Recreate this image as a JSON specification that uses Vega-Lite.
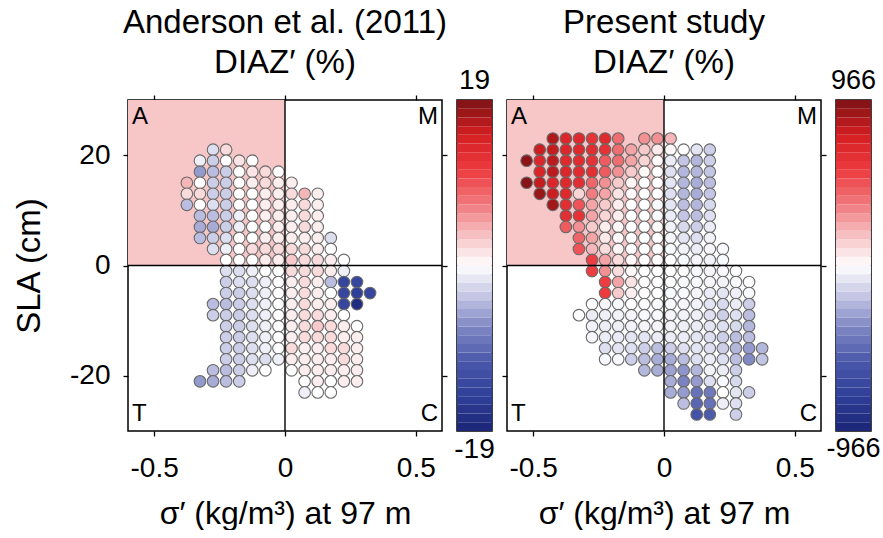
{
  "$schema": "https://vega.github.io/schema/vega-lite/v6.json",
  "background": "white",
  "padding": {"left": 12, "top": 6, "right": 0, "bottom": 0},
  "config": {
    "font": "Liberation Sans",
    "view": {"stroke": "black", "strokeWidth": 1.5},
    "concat": {"spacing": 15},
    "axis": {"domain": false, "grid": false, "ticks": true, "tickColor": "black", "tickSize": 5, "tickWidth": 1.3, "labelFont": "Liberation Sans", "labelFontSize": 28, "labelColor": "black", "titleFont": "Liberation Sans", "titleFontSize": 32, "titleFontWeight": "normal", "titleColor": "black"},
    "title": {"font": "Liberation Sans", "fontSize": 33, "fontWeight": "normal", "color": "black"}
  },
  "bounds": "flush",
  "resolve": {"scale": {"color": "independent", "x": "independent", "y": "independent"}},
  "datasets": {
    "left": [
      {"x":-0.275,"y":21,"v":-2},{"x":-0.225,"y":21,"v":2},
      {"x":-0.325,"y":19,"v":-1},{"x":-0.275,"y":19,"v":-3},{"x":-0.225,"y":19,"v":0},{"x":-0.175,"y":19,"v":1.5},{"x":-0.125,"y":19,"v":0},
      {"x":-0.325,"y":17,"v":-6},{"x":-0.275,"y":17,"v":-4},{"x":-0.225,"y":17,"v":-3},{"x":-0.175,"y":17,"v":0},{"x":-0.125,"y":17,"v":1.5},{"x":-0.075,"y":17,"v":2},{"x":-0.025,"y":17,"v":0},
      {"x":-0.375,"y":15,"v":4},{"x":-0.325,"y":15,"v":0},{"x":-0.275,"y":15,"v":-3},{"x":-0.225,"y":15,"v":-3},{"x":-0.175,"y":15,"v":0},{"x":-0.125,"y":15,"v":1},{"x":-0.075,"y":15,"v":2},{"x":-0.025,"y":15,"v":1},{"x":0.025,"y":15,"v":1},
      {"x":-0.375,"y":13,"v":2},{"x":-0.325,"y":13,"v":2},{"x":-0.275,"y":13,"v":-3},{"x":-0.225,"y":13,"v":-3},{"x":-0.175,"y":13,"v":0},{"x":-0.125,"y":13,"v":0},{"x":-0.075,"y":13,"v":1},{"x":-0.025,"y":13,"v":1},{"x":0.025,"y":13,"v":2},{"x":0.075,"y":13,"v":4},{"x":0.125,"y":13,"v":1},
      {"x":-0.375,"y":11,"v":-4},{"x":-0.325,"y":11,"v":0},{"x":-0.275,"y":11,"v":-2},{"x":-0.225,"y":11,"v":-3},{"x":-0.175,"y":11,"v":0},{"x":-0.125,"y":11,"v":0},{"x":-0.075,"y":11,"v":1},{"x":-0.025,"y":11,"v":1},{"x":0.025,"y":11,"v":1},{"x":0.075,"y":11,"v":2},{"x":0.125,"y":11,"v":1},
      {"x":-0.325,"y":9,"v":-4},{"x":-0.275,"y":9,"v":-4},{"x":-0.225,"y":9,"v":-3},{"x":-0.175,"y":9,"v":-1},{"x":-0.125,"y":9,"v":0},{"x":-0.075,"y":9,"v":1},{"x":-0.025,"y":9,"v":1},{"x":0.025,"y":9,"v":1},{"x":0.075,"y":9,"v":2},{"x":0.125,"y":9,"v":1},
      {"x":-0.325,"y":7,"v":-5},{"x":-0.275,"y":7,"v":-5},{"x":-0.225,"y":7,"v":-3},{"x":-0.175,"y":7,"v":-1},{"x":-0.125,"y":7,"v":0},{"x":-0.075,"y":7,"v":0},{"x":-0.025,"y":7,"v":1},{"x":0.025,"y":7,"v":1},{"x":0.075,"y":7,"v":2},{"x":0.125,"y":7,"v":1},
      {"x":-0.325,"y":5,"v":-4},{"x":-0.275,"y":5,"v":-3},{"x":-0.225,"y":5,"v":-2},{"x":-0.175,"y":5,"v":0},{"x":-0.125,"y":5,"v":0},{"x":-0.075,"y":5,"v":1},{"x":-0.025,"y":5,"v":1},{"x":0.025,"y":5,"v":1},{"x":0.075,"y":5,"v":1},{"x":0.125,"y":5,"v":1},{"x":0.175,"y":5,"v":-2},
      {"x":-0.275,"y":3,"v":-2},{"x":-0.225,"y":3,"v":-1},{"x":-0.175,"y":3,"v":0},{"x":-0.125,"y":3,"v":2},{"x":-0.075,"y":3,"v":2},{"x":-0.025,"y":3,"v":2},{"x":0.025,"y":3,"v":2},{"x":0.075,"y":3,"v":2},{"x":0.125,"y":3,"v":1},{"x":0.175,"y":3,"v":0},
      {"x":-0.225,"y":1,"v":0},{"x":-0.175,"y":1,"v":0},{"x":-0.125,"y":1,"v":0},{"x":-0.075,"y":1,"v":1},{"x":-0.025,"y":1,"v":1},{"x":0.025,"y":1,"v":3},{"x":0.075,"y":1,"v":2},{"x":0.125,"y":1,"v":2},{"x":0.175,"y":1,"v":1},{"x":0.225,"y":1,"v":0},
      {"x":-0.225,"y":-1,"v":-2},{"x":-0.175,"y":-1,"v":-2},{"x":-0.125,"y":-1,"v":-1},{"x":-0.075,"y":-1,"v":0},{"x":-0.025,"y":-1,"v":0},{"x":0.025,"y":-1,"v":2},{"x":0.075,"y":-1,"v":2},{"x":0.125,"y":-1,"v":2},{"x":0.175,"y":-1,"v":1},{"x":0.225,"y":-1,"v":-1},
      {"x":-0.225,"y":-3,"v":-3},{"x":-0.175,"y":-3,"v":-2},{"x":-0.125,"y":-3,"v":-2},{"x":-0.075,"y":-3,"v":-1},{"x":-0.025,"y":-3,"v":0},{"x":0.025,"y":-3,"v":1},{"x":0.075,"y":-3,"v":2},{"x":0.125,"y":-3,"v":1},{"x":0.175,"y":-3,"v":-4},{"x":0.225,"y":-3,"v":-14},{"x":0.275,"y":-3,"v":-14},
      {"x":-0.225,"y":-5,"v":-3},{"x":-0.175,"y":-5,"v":-3},{"x":-0.125,"y":-5,"v":-2},{"x":-0.075,"y":-5,"v":-1},{"x":-0.025,"y":-5,"v":0},{"x":0.025,"y":-5,"v":1},{"x":0.075,"y":-5,"v":2},{"x":0.125,"y":-5,"v":1},{"x":0.175,"y":-5,"v":0},{"x":0.225,"y":-5,"v":-14},{"x":0.275,"y":-5,"v":-15},{"x":0.325,"y":-5,"v":-14},
      {"x":-0.275,"y":-7,"v":-4},{"x":-0.225,"y":-7,"v":-4},{"x":-0.175,"y":-7,"v":-3},{"x":-0.125,"y":-7,"v":-2},{"x":-0.075,"y":-7,"v":-1},{"x":-0.025,"y":-7,"v":0},{"x":0.025,"y":-7,"v":1},{"x":0.075,"y":-7,"v":2},{"x":0.125,"y":-7,"v":1},{"x":0.175,"y":-7,"v":1},{"x":0.225,"y":-7,"v":-14},{"x":0.275,"y":-7,"v":-18},
      {"x":-0.275,"y":-9,"v":-3},{"x":-0.225,"y":-9,"v":-3},{"x":-0.175,"y":-9,"v":-3},{"x":-0.125,"y":-9,"v":-2},{"x":-0.075,"y":-9,"v":-1},{"x":-0.025,"y":-9,"v":0},{"x":0.025,"y":-9,"v":1},{"x":0.075,"y":-9,"v":2},{"x":0.125,"y":-9,"v":2},{"x":0.175,"y":-9,"v":1},{"x":0.225,"y":-9,"v":0},
      {"x":-0.225,"y":-11,"v":-3},{"x":-0.175,"y":-11,"v":-3},{"x":-0.125,"y":-11,"v":-2},{"x":-0.075,"y":-11,"v":-1},{"x":-0.025,"y":-11,"v":0},{"x":0.025,"y":-11,"v":1},{"x":0.075,"y":-11,"v":2},{"x":0.125,"y":-11,"v":3},{"x":0.175,"y":-11,"v":2},{"x":0.225,"y":-11,"v":1},{"x":0.275,"y":-11,"v":0},
      {"x":-0.225,"y":-13,"v":-3},{"x":-0.175,"y":-13,"v":-3},{"x":-0.125,"y":-13,"v":-2},{"x":-0.075,"y":-13,"v":-1},{"x":-0.025,"y":-13,"v":0},{"x":0.025,"y":-13,"v":1},{"x":0.075,"y":-13,"v":2},{"x":0.125,"y":-13,"v":2},{"x":0.175,"y":-13,"v":2},{"x":0.225,"y":-13,"v":1},{"x":0.275,"y":-13,"v":1},
      {"x":-0.225,"y":-15,"v":-3},{"x":-0.175,"y":-15,"v":-3},{"x":-0.125,"y":-15,"v":-2},{"x":-0.075,"y":-15,"v":-1},{"x":-0.025,"y":-15,"v":0},{"x":0.025,"y":-15,"v":2},{"x":0.075,"y":-15,"v":1},{"x":0.125,"y":-15,"v":1},{"x":0.175,"y":-15,"v":2},{"x":0.225,"y":-15,"v":2},{"x":0.275,"y":-15,"v":1},
      {"x":-0.225,"y":-17,"v":-3},{"x":-0.175,"y":-17,"v":-3},{"x":-0.125,"y":-17,"v":-2},{"x":-0.075,"y":-17,"v":-2},{"x":-0.025,"y":-17,"v":-1},{"x":0.025,"y":-17,"v":1},{"x":0.075,"y":-17,"v":1},{"x":0.125,"y":-17,"v":1},{"x":0.175,"y":-17,"v":1},{"x":0.225,"y":-17,"v":2},{"x":0.275,"y":-17,"v":1},
      {"x":-0.275,"y":-19,"v":-4},{"x":-0.225,"y":-19,"v":-4},{"x":-0.175,"y":-19,"v":-3},{"x":-0.125,"y":-19,"v":-1},{"x":-0.075,"y":-19,"v":0},{"x":0.025,"y":-19,"v":0},{"x":0.075,"y":-19,"v":1},{"x":0.125,"y":-19,"v":1},{"x":0.175,"y":-19,"v":1},{"x":0.225,"y":-19,"v":1},{"x":0.275,"y":-19,"v":1},
      {"x":-0.325,"y":-21,"v":-6},{"x":-0.275,"y":-21,"v":-5},{"x":-0.225,"y":-21,"v":-4},{"x":-0.175,"y":-21,"v":-3},{"x":0.075,"y":-21,"v":0},{"x":0.125,"y":-21,"v":1},{"x":0.175,"y":-21,"v":0},{"x":0.225,"y":-21,"v":1},{"x":0.275,"y":-21,"v":1},
      {"x":0.075,"y":-23,"v":-1},{"x":0.125,"y":-23,"v":0},{"x":0.175,"y":-23,"v":0}
    ],
    "right": [
      {"x":-0.425,"y":23,"v":850},{"x":-0.375,"y":23,"v":700},{"x":-0.325,"y":23,"v":680},{"x":-0.275,"y":23,"v":600},{"x":-0.225,"y":23,"v":680},{"x":-0.175,"y":23,"v":400},{"x":-0.075,"y":23,"v":300},{"x":-0.025,"y":23,"v":300},{"x":0.025,"y":23,"v":200},
      {"x":-0.475,"y":21,"v":780},{"x":-0.425,"y":21,"v":800},{"x":-0.375,"y":21,"v":700},{"x":-0.325,"y":21,"v":680},{"x":-0.275,"y":21,"v":650},{"x":-0.225,"y":21,"v":620},{"x":-0.175,"y":21,"v":400},{"x":-0.125,"y":21,"v":250},{"x":-0.075,"y":21,"v":150},{"x":-0.025,"y":21,"v":60},{"x":0.025,"y":21,"v":20},{"x":0.075,"y":21,"v":0},{"x":0.125,"y":21,"v":-80},{"x":0.175,"y":21,"v":-150},
      {"x":-0.525,"y":19,"v":930},{"x":-0.475,"y":19,"v":700},{"x":-0.425,"y":19,"v":820},{"x":-0.375,"y":19,"v":680},{"x":-0.325,"y":19,"v":660},{"x":-0.275,"y":19,"v":620},{"x":-0.225,"y":19,"v":450},{"x":-0.175,"y":19,"v":400},{"x":-0.125,"y":19,"v":250},{"x":-0.075,"y":19,"v":120},{"x":-0.025,"y":19,"v":20},{"x":0.025,"y":19,"v":-60},{"x":0.075,"y":19,"v":-180},{"x":0.125,"y":19,"v":-220},{"x":0.175,"y":19,"v":-150},
      {"x":-0.475,"y":17,"v":720},{"x":-0.425,"y":17,"v":820},{"x":-0.375,"y":17,"v":700},{"x":-0.325,"y":17,"v":660},{"x":-0.275,"y":17,"v":640},{"x":-0.225,"y":17,"v":450},{"x":-0.175,"y":17,"v":300},{"x":-0.125,"y":17,"v":150},{"x":-0.075,"y":17,"v":20},{"x":-0.025,"y":17,"v":0},{"x":0.025,"y":17,"v":-100},{"x":0.075,"y":17,"v":-220},{"x":0.125,"y":17,"v":-220},{"x":0.175,"y":17,"v":-180},
      {"x":-0.525,"y":15,"v":940},{"x":-0.475,"y":15,"v":800},{"x":-0.425,"y":15,"v":700},{"x":-0.375,"y":15,"v":680},{"x":-0.325,"y":15,"v":650},{"x":-0.275,"y":15,"v":420},{"x":-0.225,"y":15,"v":300},{"x":-0.175,"y":15,"v":150},{"x":-0.125,"y":15,"v":30},{"x":-0.075,"y":15,"v":0},{"x":-0.025,"y":15,"v":0},{"x":0.025,"y":15,"v":-80},{"x":0.075,"y":15,"v":-220},{"x":0.125,"y":15,"v":-250},{"x":0.175,"y":15,"v":-200},
      {"x":-0.475,"y":13,"v":900},{"x":-0.425,"y":13,"v":780},{"x":-0.375,"y":13,"v":680},{"x":-0.325,"y":13,"v":120},{"x":-0.275,"y":13,"v":350},{"x":-0.225,"y":13,"v":250},{"x":-0.175,"y":13,"v":80},{"x":-0.125,"y":13,"v":20},{"x":-0.075,"y":13,"v":0},{"x":-0.025,"y":13,"v":0},{"x":0.025,"y":13,"v":-100},{"x":0.075,"y":13,"v":-220},{"x":0.125,"y":13,"v":-250},{"x":0.175,"y":13,"v":-180},
      {"x":-0.425,"y":11,"v":880},{"x":-0.375,"y":11,"v":650},{"x":-0.325,"y":11,"v":480},{"x":-0.275,"y":11,"v":250},{"x":-0.225,"y":11,"v":150},{"x":-0.175,"y":11,"v":50},{"x":-0.125,"y":11,"v":0},{"x":-0.075,"y":11,"v":0},{"x":-0.025,"y":11,"v":-20},{"x":0.025,"y":11,"v":-80},{"x":0.075,"y":11,"v":-200},{"x":0.125,"y":11,"v":-220},{"x":0.175,"y":11,"v":-120},
      {"x":-0.375,"y":9,"v":650},{"x":-0.325,"y":9,"v":620},{"x":-0.275,"y":9,"v":250},{"x":-0.225,"y":9,"v":120},{"x":-0.175,"y":9,"v":50},{"x":-0.125,"y":9,"v":0},{"x":-0.075,"y":9,"v":0},{"x":-0.025,"y":9,"v":-20},{"x":0.025,"y":9,"v":-60},{"x":0.075,"y":9,"v":-180},{"x":0.125,"y":9,"v":-200},{"x":0.175,"y":9,"v":-100},
      {"x":-0.375,"y":7,"v":450},{"x":-0.325,"y":7,"v":300},{"x":-0.275,"y":7,"v":150},{"x":-0.225,"y":7,"v":50},{"x":-0.175,"y":7,"v":20},{"x":-0.125,"y":7,"v":0},{"x":-0.075,"y":7,"v":0},{"x":-0.025,"y":7,"v":-10},{"x":0.025,"y":7,"v":-40},{"x":0.075,"y":7,"v":-120},{"x":0.125,"y":7,"v":-150},{"x":0.175,"y":7,"v":-60},
      {"x":-0.325,"y":5,"v":420},{"x":-0.275,"y":5,"v":250},{"x":-0.225,"y":5,"v":60},{"x":-0.175,"y":5,"v":20},{"x":-0.125,"y":5,"v":0},{"x":-0.075,"y":5,"v":0},{"x":-0.025,"y":5,"v":0},{"x":0.025,"y":5,"v":-30},{"x":0.075,"y":5,"v":-80},{"x":0.125,"y":5,"v":-100},{"x":0.175,"y":5,"v":-40},
      {"x":-0.325,"y":3,"v":480},{"x":-0.275,"y":3,"v":200},{"x":-0.225,"y":3,"v":100},{"x":-0.175,"y":3,"v":30},{"x":-0.125,"y":3,"v":0},{"x":-0.075,"y":3,"v":0},{"x":-0.025,"y":3,"v":0},{"x":0.025,"y":3,"v":-20},{"x":0.075,"y":3,"v":-40},{"x":0.125,"y":3,"v":-60},{"x":0.175,"y":3,"v":-30},{"x":0.225,"y":3,"v":-20},
      {"x":-0.275,"y":1,"v":550},{"x":-0.225,"y":1,"v":250},{"x":-0.175,"y":1,"v":100},{"x":-0.125,"y":1,"v":20},{"x":-0.075,"y":1,"v":0},{"x":-0.025,"y":1,"v":0},{"x":0.025,"y":1,"v":0},{"x":0.075,"y":1,"v":-20},{"x":0.125,"y":1,"v":-30},{"x":0.175,"y":1,"v":-40},{"x":0.225,"y":1,"v":-20},
      {"x":-0.275,"y":-1,"v":550},{"x":-0.225,"y":-1,"v":300},{"x":-0.175,"y":-1,"v":100},{"x":-0.125,"y":-1,"v":20},{"x":-0.075,"y":-1,"v":0},{"x":-0.025,"y":-1,"v":0},{"x":0.025,"y":-1,"v":0},{"x":0.075,"y":-1,"v":-10},{"x":0.125,"y":-1,"v":-20},{"x":0.175,"y":-1,"v":-30},{"x":0.225,"y":-1,"v":-20},{"x":0.275,"y":-1,"v":0},
      {"x":-0.225,"y":-3,"v":550},{"x":-0.175,"y":-3,"v":250},{"x":-0.125,"y":-3,"v":80},{"x":-0.075,"y":-3,"v":10},{"x":-0.025,"y":-3,"v":0},{"x":0.025,"y":-3,"v":-10},{"x":0.075,"y":-3,"v":-20},{"x":0.125,"y":-3,"v":-20},{"x":0.175,"y":-3,"v":-30},{"x":0.225,"y":-3,"v":-40},{"x":0.275,"y":-3,"v":-20},{"x":0.325,"y":-3,"v":0},
      {"x":-0.225,"y":-5,"v":560},{"x":-0.175,"y":-5,"v":150},{"x":-0.125,"y":-5,"v":50},{"x":-0.075,"y":-5,"v":10},{"x":-0.025,"y":-5,"v":0},{"x":0.025,"y":-5,"v":-20},{"x":0.075,"y":-5,"v":-20},{"x":0.125,"y":-5,"v":-30},{"x":0.175,"y":-5,"v":-60},{"x":0.225,"y":-5,"v":-80},{"x":0.275,"y":-5,"v":-50},{"x":0.325,"y":-5,"v":-20},
      {"x":-0.275,"y":-7,"v":0},{"x":-0.225,"y":-7,"v":-30},{"x":-0.175,"y":-7,"v":-20},{"x":-0.125,"y":-7,"v":0},{"x":-0.075,"y":-7,"v":-10},{"x":-0.025,"y":-7,"v":-20},{"x":0.025,"y":-7,"v":-20},{"x":0.075,"y":-7,"v":-30},{"x":0.125,"y":-7,"v":-40},{"x":0.175,"y":-7,"v":-80},{"x":0.225,"y":-7,"v":-120},{"x":0.275,"y":-7,"v":-60},{"x":0.325,"y":-7,"v":-150},
      {"x":-0.325,"y":-9,"v":0},{"x":-0.275,"y":-9,"v":-60},{"x":-0.225,"y":-9,"v":-50},{"x":-0.175,"y":-9,"v":-40},{"x":-0.125,"y":-9,"v":-30},{"x":-0.075,"y":-9,"v":-20},{"x":-0.025,"y":-9,"v":-20},{"x":0.025,"y":-9,"v":-30},{"x":0.075,"y":-9,"v":-40},{"x":0.125,"y":-9,"v":-50},{"x":0.175,"y":-9,"v":-100},{"x":0.225,"y":-9,"v":-150},{"x":0.275,"y":-9,"v":-100},{"x":0.325,"y":-9,"v":-200},
      {"x":-0.275,"y":-11,"v":-40},{"x":-0.225,"y":-11,"v":-60},{"x":-0.175,"y":-11,"v":-50},{"x":-0.125,"y":-11,"v":-40},{"x":-0.075,"y":-11,"v":-30},{"x":-0.025,"y":-11,"v":-30},{"x":0.025,"y":-11,"v":-40},{"x":0.075,"y":-11,"v":-50},{"x":0.125,"y":-11,"v":-60},{"x":0.175,"y":-11,"v":-80},{"x":0.225,"y":-11,"v":-100},{"x":0.275,"y":-11,"v":-120},{"x":0.325,"y":-11,"v":-220},
      {"x":-0.275,"y":-13,"v":-30},{"x":-0.225,"y":-13,"v":-60},{"x":-0.175,"y":-13,"v":-60},{"x":-0.125,"y":-13,"v":-80},{"x":-0.075,"y":-13,"v":-80},{"x":-0.025,"y":-13,"v":-60},{"x":0.025,"y":-13,"v":-60},{"x":0.075,"y":-13,"v":-60},{"x":0.125,"y":-13,"v":-80},{"x":0.175,"y":-13,"v":-100},{"x":0.225,"y":-13,"v":-150},{"x":0.275,"y":-13,"v":-200},{"x":0.325,"y":-13,"v":-200},
      {"x":-0.225,"y":-15,"v":-100},{"x":-0.175,"y":-15,"v":-80},{"x":-0.125,"y":-15,"v":-100},{"x":-0.075,"y":-15,"v":-150},{"x":-0.025,"y":-15,"v":-200},{"x":0.025,"y":-15,"v":-150},{"x":0.075,"y":-15,"v":-100},{"x":0.125,"y":-15,"v":-80},{"x":0.175,"y":-15,"v":-100},{"x":0.225,"y":-15,"v":-150},{"x":0.275,"y":-15,"v":-220},{"x":0.325,"y":-15,"v":-300},{"x":0.375,"y":-15,"v":-220},
      {"x":-0.225,"y":-17,"v":-20},{"x":-0.175,"y":-17,"v":-20},{"x":-0.125,"y":-17,"v":-150},{"x":-0.075,"y":-17,"v":-200},{"x":-0.025,"y":-17,"v":-250},{"x":0.025,"y":-17,"v":-250},{"x":0.075,"y":-17,"v":-200},{"x":0.125,"y":-17,"v":-100},{"x":0.175,"y":-17,"v":-60},{"x":0.225,"y":-17,"v":-100},{"x":0.275,"y":-17,"v":-200},{"x":0.325,"y":-17,"v":-350},{"x":0.375,"y":-17,"v":-180},
      {"x":-0.075,"y":-19,"v":-220},{"x":-0.025,"y":-19,"v":-250},{"x":0.025,"y":-19,"v":-280},{"x":0.075,"y":-19,"v":-320},{"x":0.125,"y":-19,"v":-220},{"x":0.175,"y":-19,"v":-40},{"x":0.225,"y":-19,"v":-60},{"x":0.275,"y":-19,"v":-150},
      {"x":0.025,"y":-21,"v":-250},{"x":0.075,"y":-21,"v":-380},{"x":0.125,"y":-21,"v":-300},{"x":0.175,"y":-21,"v":-100},{"x":0.225,"y":-21,"v":-20},{"x":0.275,"y":-21,"v":-120},
      {"x":0.025,"y":-23,"v":-250},{"x":0.075,"y":-23,"v":-300},{"x":0.125,"y":-23,"v":-450},{"x":0.175,"y":-23,"v":-420},{"x":0.225,"y":-23,"v":0},{"x":0.275,"y":-23,"v":-80},{"x":0.325,"y":-23,"v":-150},
      {"x":0.075,"y":-25,"v":-200},{"x":0.125,"y":-25,"v":-500},{"x":0.175,"y":-25,"v":-450},{"x":0.225,"y":-25,"v":-50},{"x":0.275,"y":-25,"v":-100},
      {"x":0.125,"y":-27,"v":-600},{"x":0.175,"y":-27,"v":-550},{"x":0.275,"y":-27,"v":-150}
    ],
    "cbL": [
      {"lo":-19,"hi":-18,"v":-18.5},{"lo":-18,"hi":-17,"v":-17.5},{"lo":-17,"hi":-16,"v":-16.5},{"lo":-16,"hi":-15,"v":-15.5},{"lo":-15,"hi":-14,"v":-14.5},{"lo":-14,"hi":-13,"v":-13.5},{"lo":-13,"hi":-12,"v":-12.5},{"lo":-12,"hi":-11,"v":-11.5},{"lo":-11,"hi":-10,"v":-10.5},{"lo":-10,"hi":-9,"v":-9.5},
      {"lo":-9,"hi":-8,"v":-8.5},{"lo":-8,"hi":-7,"v":-7.5},{"lo":-7,"hi":-6,"v":-6.5},{"lo":-6,"hi":-5,"v":-5.5},{"lo":-5,"hi":-4,"v":-4.5},{"lo":-4,"hi":-3,"v":-3.5},{"lo":-3,"hi":-2,"v":-2.5},{"lo":-2,"hi":-1,"v":-1.5},{"lo":-1,"hi":0,"v":-0.5},
      {"lo":0,"hi":1,"v":0.5},{"lo":1,"hi":2,"v":1.5},{"lo":2,"hi":3,"v":2.5},{"lo":3,"hi":4,"v":3.5},{"lo":4,"hi":5,"v":4.5},{"lo":5,"hi":6,"v":5.5},{"lo":6,"hi":7,"v":6.5},{"lo":7,"hi":8,"v":7.5},{"lo":8,"hi":9,"v":8.5},{"lo":9,"hi":10,"v":9.5},
      {"lo":10,"hi":11,"v":10.5},{"lo":11,"hi":12,"v":11.5},{"lo":12,"hi":13,"v":12.5},{"lo":13,"hi":14,"v":13.5},{"lo":14,"hi":15,"v":14.5},{"lo":15,"hi":16,"v":15.5},{"lo":16,"hi":17,"v":16.5},{"lo":17,"hi":18,"v":17.5},{"lo":18,"hi":19,"v":18.5}
    ],
    "cbR": [
      {"lo":-966,"hi":-915.2,"v":-940.6},{"lo":-915.2,"hi":-864.3,"v":-889.7},{"lo":-864.3,"hi":-813.5,"v":-838.9},{"lo":-813.5,"hi":-762.6,"v":-788.1},{"lo":-762.6,"hi":-711.8,"v":-737.2},{"lo":-711.8,"hi":-661,"v":-686.4},{"lo":-661,"hi":-610.1,"v":-635.5},{"lo":-610.1,"hi":-559.3,"v":-584.7},{"lo":-559.3,"hi":-508.4,"v":-533.9},{"lo":-508.4,"hi":-457.6,"v":-483},
      {"lo":-457.6,"hi":-406.7,"v":-432.2},{"lo":-406.7,"hi":-355.9,"v":-381.3},{"lo":-355.9,"hi":-305.1,"v":-330.5},{"lo":-305.1,"hi":-254.2,"v":-279.7},{"lo":-254.2,"hi":-203.4,"v":-228.8},{"lo":-203.4,"hi":-152.5,"v":-178},{"lo":-152.5,"hi":-101.7,"v":-127.1},{"lo":-101.7,"hi":-50.8,"v":-76.3},{"lo":-50.8,"hi":0,"v":-25.4},
      {"lo":0,"hi":50.8,"v":25.4},{"lo":50.8,"hi":101.7,"v":76.3},{"lo":101.7,"hi":152.5,"v":127.1},{"lo":152.5,"hi":203.4,"v":178},{"lo":203.4,"hi":254.2,"v":228.8},{"lo":254.2,"hi":305.1,"v":279.7},{"lo":305.1,"hi":355.9,"v":330.5},{"lo":355.9,"hi":406.7,"v":381.3},{"lo":406.7,"hi":457.6,"v":432.2},{"lo":457.6,"hi":508.4,"v":483},
      {"lo":508.4,"hi":559.3,"v":533.9},{"lo":559.3,"hi":610.1,"v":584.7},{"lo":610.1,"hi":661,"v":635.5},{"lo":661,"hi":711.8,"v":686.4},{"lo":711.8,"hi":762.6,"v":737.2},{"lo":762.6,"hi":813.5,"v":788.1},{"lo":813.5,"hi":864.3,"v":838.9},{"lo":864.3,"hi":915.2,"v":889.7},{"lo":915.2,"hi":966,"v":940.6}
    ],
    "shade": [{"x1":-0.6,"x2":0,"y1":0,"y2":30}],
    "cornersL": [{"x":-0.6,"y":27,"t":"A"},{"x":-0.6,"y":-27,"t":"T"}],
    "cornersR": [{"x":0.6,"y":27,"t":"M"},{"x":0.6,"y":-27,"t":"C"}]
  },
  "hconcat": [
    {
      "width": 314, "height": 331,
      "title": {"text": ["Anderson et al. (2011)", "DIAZ′ (%)"], "lineHeight": 40, "offset": 14},
      "layer": [
        {"data": {"name": "shade"}, "mark": {"type": "rect", "color": "#f7c6c7"},
         "encoding": {
           "x": {"field": "x1", "type": "quantitative", "scale": {"domain": [-0.6, 0.6], "nice": false, "zero": false}, "axis": {"values": [-0.5, 0, 0.5], "title": "σ′ (kg/m³) at 97 m", "labelPadding": 18, "titlePadding": 16, "labelExpr": "datum.value == 0 ? '0' : replace(datum.label, '−', '-')"}},
           "x2": {"field": "x2"},
           "y": {"field": "y1", "type": "quantitative", "scale": {"domain": [-30, 30], "nice": false, "zero": false}, "axis": {"values": [-20, 0, 20], "title": "SLA (cm)", "titleFontSize": 33, "labelPadding": 13, "titlePadding": 23, "labelExpr": "replace(datum.label, '−', '-')"}},
           "y2": {"field": "y2"}}},
        {"data": {"name": "left"}, "mark": {"type": "circle", "size": 135, "stroke": "#6a6a6a", "strokeWidth": 1.1, "opacity": 1},
         "encoding": {
           "x": {"field": "x", "type": "quantitative", "axis": null},
           "y": {"field": "y", "type": "quantitative", "axis": null},
           "color": {"field": "v", "type": "quantitative", "legend": null, "scale": {"domain": [-19, -15, -11, -7, -3.5, 0, 3.5, 7, 11, 15, 19], "range": ["#1b2576", "#2f3f98", "#4a58aa", "#8088c4", "#c4c6e4", "#ffffff", "#f6c0c2", "#f07a7e", "#ec3a3e", "#d41e22", "#7c1214"], "interpolate": "rgb"}}}},
        {"data": {"values": [{"x": 0}]}, "mark": {"type": "rule", "color": "black", "strokeWidth": 1.4},
         "encoding": {"x": {"field": "x", "type": "quantitative", "axis": {"orient": "top", "values": [-0.5, 0, 0.5], "labels": false, "title": null}}}},
        {"data": {"values": [{"y": 0}]}, "mark": {"type": "rule", "color": "black", "strokeWidth": 1.4},
         "encoding": {"y": {"field": "y", "type": "quantitative", "axis": {"orient": "right", "values": [-20, 0, 20], "labels": false, "title": null}}}},
        {"data": {"name": "cornersL"}, "mark": {"type": "text", "align": "left", "baseline": "middle", "dx": 4, "fontSize": 24, "color": "black"},
         "encoding": {"x": {"field": "x", "type": "quantitative", "axis": null}, "y": {"field": "y", "type": "quantitative", "axis": null}, "text": {"field": "t"}}},
        {"data": {"name": "cornersR"}, "mark": {"type": "text", "align": "right", "baseline": "middle", "dx": -4, "fontSize": 24, "color": "black"},
         "encoding": {"x": {"field": "x", "type": "quantitative", "axis": null}, "y": {"field": "y", "type": "quantitative", "axis": null}, "text": {"field": "t"}}}
      ],
      "resolve": {"axis": {"x": "independent", "y": "independent"}}
    },
    {
      "width": 35, "height": 331,
      "layer": [
        {"data": {"name": "cbL"}, "mark": {"type": "rect"},
         "encoding": {
           "y": {"field": "lo", "type": "quantitative", "scale": {"domain": [-19, 19], "nice": false, "zero": false}, "axis": null},
           "y2": {"field": "hi"},
           "color": {"field": "v", "type": "quantitative", "legend": null, "scale": {"domain": [-19, -15, -11, -7, -3.5, 0, 3.5, 7, 11, 15, 19], "range": ["#1b2576", "#2f3f98", "#4a58aa", "#8088c4", "#c4c6e4", "#ffffff", "#f6c0c2", "#f07a7e", "#ec3a3e", "#d41e22", "#7c1214"], "interpolate": "rgb"}}}},
        {"data": {"values": [{"y": 19, "t": "19"}]}, "mark": {"type": "text", "baseline": "alphabetic", "dy": -11, "fontSize": 28, "color": "black"},
         "encoding": {"y": {"field": "y", "type": "quantitative"}, "text": {"field": "t"}}},
        {"data": {"values": [{"y": -19, "t": "-19"}]}, "mark": {"type": "text", "baseline": "top", "dy": 5, "fontSize": 28, "color": "black"},
         "encoding": {"y": {"field": "y", "type": "quantitative"}, "text": {"field": "t"}}}
      ]
    },
    {
      "width": 314, "height": 331,
      "title": {"text": ["Present study", "DIAZ′ (%)"], "lineHeight": 40, "offset": 14},
      "layer": [
        {"data": {"name": "shade"}, "mark": {"type": "rect", "color": "#f7c6c7"},
         "encoding": {
           "x": {"field": "x1", "type": "quantitative", "scale": {"domain": [-0.6, 0.6], "nice": false, "zero": false}, "axis": {"values": [-0.5, 0, 0.5], "title": "σ′ (kg/m³) at 97 m", "labelPadding": 18, "titlePadding": 16, "labelExpr": "datum.value == 0 ? '0' : replace(datum.label, '−', '-')"}},
           "x2": {"field": "x2"},
           "y": {"field": "y1", "type": "quantitative", "scale": {"domain": [-30, 30], "nice": false, "zero": false}, "axis": {"values": [-20, 0, 20], "labels": false, "title": null}},
           "y2": {"field": "y2"}}},
        {"data": {"name": "right"}, "mark": {"type": "circle", "size": 135, "stroke": "#6a6a6a", "strokeWidth": 1.1, "opacity": 1},
         "encoding": {
           "x": {"field": "x", "type": "quantitative", "axis": null},
           "y": {"field": "y", "type": "quantitative", "axis": null},
           "color": {"field": "v", "type": "quantitative", "legend": null, "scale": {"domain": [-966, -762.6, -559.3, -355.9, -178, 0, 178, 355.9, 559.3, 762.6, 966], "range": ["#1b2576", "#2f3f98", "#4a58aa", "#8088c4", "#c4c6e4", "#ffffff", "#f6c0c2", "#f07a7e", "#ec3a3e", "#d41e22", "#7c1214"], "interpolate": "rgb"}}}},
        {"data": {"values": [{"x": 0}]}, "mark": {"type": "rule", "color": "black", "strokeWidth": 1.4},
         "encoding": {"x": {"field": "x", "type": "quantitative", "axis": {"orient": "top", "values": [-0.5, 0, 0.5], "labels": false, "title": null}}}},
        {"data": {"values": [{"y": 0}]}, "mark": {"type": "rule", "color": "black", "strokeWidth": 1.4},
         "encoding": {"y": {"field": "y", "type": "quantitative", "axis": {"orient": "right", "values": [-20, 0, 20], "labels": false, "title": null}}}},
        {"data": {"name": "cornersL"}, "mark": {"type": "text", "align": "left", "baseline": "middle", "dx": 4, "fontSize": 24, "color": "black"},
         "encoding": {"x": {"field": "x", "type": "quantitative", "axis": null}, "y": {"field": "y", "type": "quantitative", "axis": null}, "text": {"field": "t"}}},
        {"data": {"name": "cornersR"}, "mark": {"type": "text", "align": "right", "baseline": "middle", "dx": -4, "fontSize": 24, "color": "black"},
         "encoding": {"x": {"field": "x", "type": "quantitative", "axis": null}, "y": {"field": "y", "type": "quantitative", "axis": null}, "text": {"field": "t"}}}
      ],
      "resolve": {"axis": {"x": "independent", "y": "independent"}}
    },
    {
      "width": 35, "height": 331,
      "layer": [
        {"data": {"name": "cbR"}, "mark": {"type": "rect"},
         "encoding": {
           "y": {"field": "lo", "type": "quantitative", "scale": {"domain": [-966, 966], "nice": false, "zero": false}, "axis": null},
           "y2": {"field": "hi"},
           "color": {"field": "v", "type": "quantitative", "legend": null, "scale": {"domain": [-966, -762.6, -559.3, -355.9, -178, 0, 178, 355.9, 559.3, 762.6, 966], "range": ["#1b2576", "#2f3f98", "#4a58aa", "#8088c4", "#c4c6e4", "#ffffff", "#f6c0c2", "#f07a7e", "#ec3a3e", "#d41e22", "#7c1214"], "interpolate": "rgb"}}}},
        {"data": {"values": [{"y": 966, "t": "966"}]}, "mark": {"type": "text", "baseline": "alphabetic", "dy": -11, "fontSize": 27, "color": "black"},
         "encoding": {"y": {"field": "y", "type": "quantitative"}, "text": {"field": "t"}}},
        {"data": {"values": [{"y": -966, "t": "-966"}]}, "mark": {"type": "text", "baseline": "top", "dy": 5, "fontSize": 27, "color": "black"},
         "encoding": {"y": {"field": "y", "type": "quantitative"}, "text": {"field": "t"}}}
      ]
    }
  ]
}
